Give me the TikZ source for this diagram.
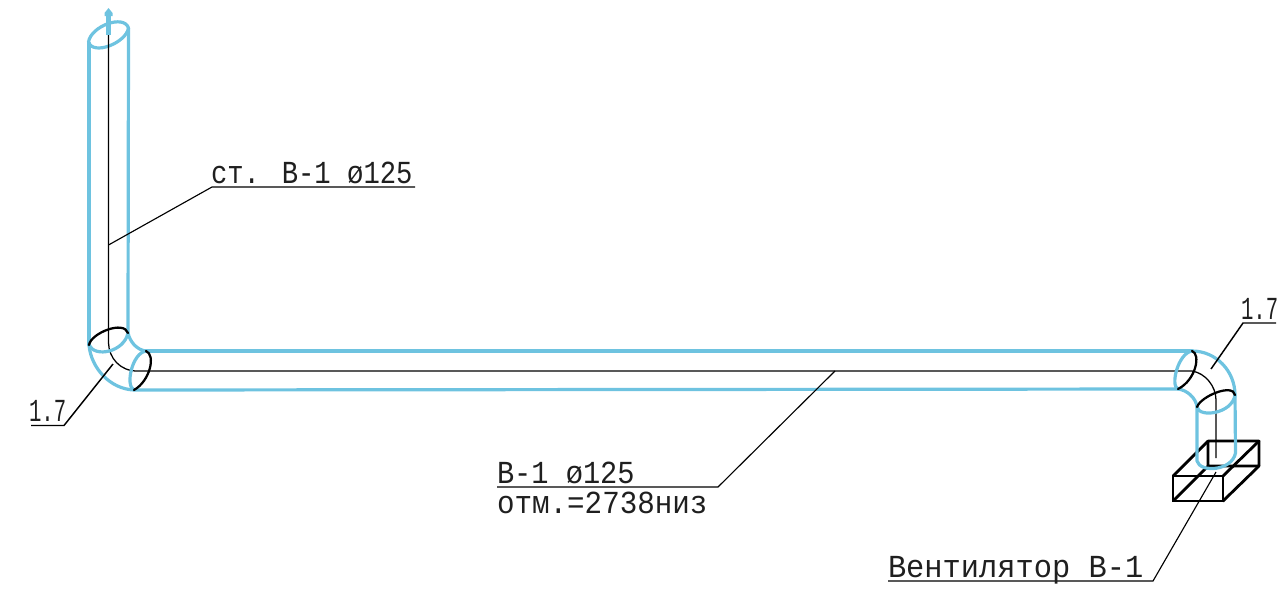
\documentclass[tikz,border=0pt]{standalone}
\usepackage{fontspec}
\setmainfont{Liberation Mono}
\begin{document}
\begin{tikzpicture}[x=0.75pt,y=-0.75pt,
  duct/.style={draw=ductblue,line width=2.4pt,line cap=round,line join=round},
  axisline/.style={draw=black,line width=0.95pt},
  ring/.style={draw=black,line width=1.7pt,line cap=round},
  fan/.style={draw=black,line width=2.1pt,line join=round,line cap=round},
  leader/.style={draw=black,line width=0.85pt},
  lbl/.style={anchor=base west,inner sep=0pt,outer sep=0pt,font=\fontsize{21.5pt}{24pt}\selectfont,text=black!88,yscale=1.12}]
\definecolor{ductblue}{HTML}{6EC3E0}
\useasboundingbox (0,0) rectangle (1277,596);
% anchor points
\coordinate (topC) at (108.5,35);
\coordinate (arrowTip) at (108.5,8);
\coordinate (elbL1) at (89,345);
\coordinate (elbL2) at (128,333);
\coordinate (elbL3) at (146,351);
\coordinate (elbL4) at (134,390);
\coordinate (elbR1) at (1192,351);
\coordinate (elbR2) at (1178,389);
\coordinate (elbR3) at (1197,407);
\coordinate (elbR4) at (1235,395);
% fan box
\draw[fan] (1173,476) rectangle (1223,501);
\draw[fan] (1208,466) -- (1208,441) -- (1259,441) -- (1259,466) -- (1208,466) -- (1173,501);
\draw[fan] (1173,476) -- (1208,441);
\draw[fan] (1223,476) -- (1259,441);
\draw[fan] (1223,501) -- (1259,466);
% pipes
\draw[duct] (89,43) -- (elbL1);
\draw[duct] (128.5,28) -- (elbL2);
\draw[duct] (elbL3) -- (elbR1);
\draw[duct] (elbL4) -- (elbR2);
\draw[duct] (elbL1) .. controls (91,368) and (110,389) .. (elbL4);
\draw[duct] (elbL2) .. controls (130,342) and (137,350) .. (elbL3);
\draw[duct] (elbR1) .. controls (1216,351) and (1235,371) .. (elbR4);
\draw[duct] (elbR2) .. controls (1187,390) and (1196,398) .. (elbR3);
\draw[duct] (elbR3) -- (1197,461) .. controls (1200,473) and (1232,471) .. (1235.5,453) -- (elbR4);
% top ring and arrow
\draw[duct] (88.5,42) .. controls (91,26) and (124,14) .. (128.5,28) .. controls (126,43) and (93,56) .. (88.5,42);
% axis
\draw[axisline] (108.5,34) -- (108.5,343) .. controls (109,358) and (120,371) .. (137,371) -- (1192,371)
  .. controls (1205,373) and (1216,386) .. (1216,400) -- (1216,458);
\draw[draw=ductblue,line width=3.4pt] (topC) -- (108.5,14);
\fill[ductblue] (arrowTip) -- (112.5,13) -- (112.5,16) -- (104.5,16) -- (104.5,13) -- cycle;
% elbow rings
\draw[duct] (elbL1) .. controls (95,358) and (124,352) .. (elbL2);
\draw[ring] (elbL1) .. controls (91,333) and (124,320) .. (elbL2);
\draw[duct] (elbL3) .. controls (132,353) and (125,386) .. (elbL4);
\draw[ring] (elbL3) .. controls (156,355) and (150,381) .. (elbL4);
\draw[duct] (elbR1) .. controls (1178,353) and (1170,386) .. (elbR2);
\draw[ring] (elbR1) .. controls (1201,354) and (1196,380) .. (elbR2);
\draw[duct] (elbR3) .. controls (1199,418) and (1232,414) .. (elbR4);
\draw[ring] (elbR3) .. controls (1201,396) and (1233,383) .. (elbR4);
% leaders
\coordinate (stA) at (108.5,245);
\coordinate (stB) at (212,187);
\coordinate (stC) at (415,187);
\draw[leader] (stA) -- (stB) -- (stC);
\coordinate (lA) at (113,364);
\coordinate (lB) at (64,425.5);
\coordinate (lC) at (31,425.5);
\draw[leader,line width=1.1pt] (lA) -- (lB) -- (lC);
\coordinate (rA) at (1211,369);
\coordinate (rB) at (1243,323);
\coordinate (rC) at (1276,323);
\draw[leader,line width=1.1pt] (rA) -- (rB) -- (rC);
\coordinate (bA) at (835,371);
\coordinate (bB) at (718,487);
\coordinate (bC) at (497,487);
\draw[leader] (bA) -- (bB) -- (bC);
\coordinate (fA) at (1216,472);
\coordinate (fB) at (1153,581);
\coordinate (fC) at (888,581);
\draw[leader] (fA) -- (fB) -- (fC);
% labels
\node[lbl,xscale=.95] (tSt) at (211,183) {ст. В-1 ø125};
\node[lbl] (tB) at (497,483) {В-1 ø125};
\node[lbl,xscale=1.02] (tOtm) at (497,513) {отм.=2738низ};
\node[lbl,xscale=1.06] (tFan) at (888,577) {Вентилятор В-1};
\node[lbl,xscale=.72] (tL) at (29,421) {1.7};
\node[lbl,xscale=.72] (tR) at (1241,319) {1.7};
\end{tikzpicture}
\end{document}
